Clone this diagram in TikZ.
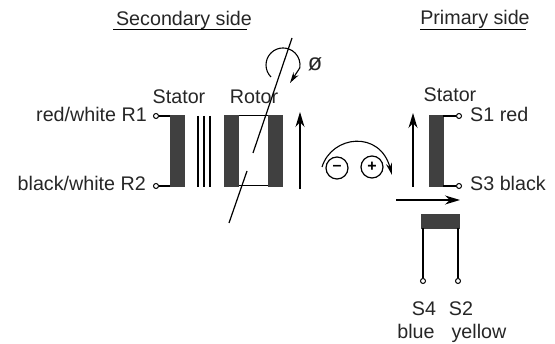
\documentclass[tikz,border=0pt]{standalone}
\usepackage{fontspec}
\setmainfont{Liberation Sans}
\usetikzlibrary{positioning,arrows.meta}
\tikzset{
  lbl/.style={inner sep=0pt,font=\fontsize{19.7}{22}\selectfont,text=black!85},
  winding/.style={draw=black!75,fill=black!75,line width=0.5pt},
  terminal/.style={circle,draw,line width=1pt,fill=white,inner sep=0pt,minimum size=5pt},
  lead/.style={line width=1.2pt},
  flux/.style={line width=1.3pt,-{Stealth[length=15pt,width=9pt]}},
  sign/.style={circle,draw,line width=1.2pt,inner sep=0pt,minimum size=22pt,font=\bfseries\fontsize{16}{16}\selectfont}
}
\begin{document}
\begin{tikzpicture}[x=1pt,y=-1pt]
  \useasboundingbox (0,0) rectangle (555,344);
  % headings
  \node[lbl] (sechead) at (184,20) {Secondary side};
  \node[lbl] (prihead) at (475,19) {Primary side};
  \draw[line width=1pt] (113,30) -- (247,30);
  \draw[line width=1pt] (420,30) -- (526,30);
  % secondary stator
  \node[lbl] (statorA) at (179,97) {Stator};
  \node[lbl] (rotor) at (254,97) {Rotor};
  \node[lbl,anchor=east] (r1) at (147,114) {red/white R1};
  \node[lbl,anchor=east] (r2) at (146,183) {black/white R2};
  \node[winding,minimum width=14pt,minimum height=71pt,inner sep=0pt] (statorAb) at (177,151) {};
  \node[terminal] (r1t) at (156,116) {};
  \node[terminal] (r2t) at (156,186) {};
  \draw[lead] (r1t) -- (r1t -| statorAb.west);
  \draw[lead] (r2t) -- (r2t -| statorAb.west);
  % core
  \foreach \x in {198,204,210}
    \draw[line width=1.1pt] (\x,116) -- (\x,187);
  % rotor
  \draw[line width=1pt] (231,116) rectangle (275,186);
  \node[winding,minimum width=14pt,minimum height=71pt,inner sep=0pt] (rotorL) at (231,151) {};
  \node[winding,minimum width=14pt,minimum height=71pt,inner sep=0pt] (rotorR) at (275,151) {};
  % shaft
  \draw[line width=1.2pt] (292,38) -- (253,153);
  \draw[line width=1.2pt] (247,171) -- (229,223);
  \draw[line width=1.1pt,-{Stealth[length=11pt,width=6pt]}] (271,77) arc[start angle=135,end angle=370,radius=17] -- (290,83);
  \node[lbl,scale=1.2] (phi) at (315,64) {ø};
  % flux arrows
  \coordinate (fa) at (300,189);
  \coordinate (fb) at (300,112);
  \draw[flux] (fa) -- (fb);
  \coordinate (fc) at (413,187);
  \coordinate (fd) at (413,113);
  \draw[flux] (fc) -- (fd);
  \coordinate (fe) at (396,200);
  \coordinate (ff) at (460,200);
  \draw[flux] (fe) -- (ff);
  % sense of rotation
  \node[sign] (minus) at (337,168) {--};
  \node[sign] (plus) at (372,167) {+};
  \draw[line width=1.1pt,-{Stealth[length=12pt,width=6pt]}] (322,167) .. controls (332,135) and (380,130) .. (392,175);
  % primary stator
  \node[lbl] (statorB) at (450,95) {Stator};
  \node[winding,minimum width=14pt,minimum height=71pt,inner sep=0pt] (statorBb) at (436,151) {};
  \node[terminal] (s1t) at (459,116) {};
  \node[terminal] (s3t) at (459,186) {};
  \draw[lead] (s1t) -- (s1t -| statorBb.east);
  \draw[lead] (s3t) -- (s3t -| statorBb.east);
  \node[lbl,anchor=west] (s1) at (470,114) {S1 red};
  \node[lbl,anchor=west] (s3) at (470,183) {S3 black};
  % lower winding
  \node[winding,minimum width=38pt,minimum height=14pt,inner sep=0pt] (lower) at (440,221) {};
  \node[terminal] (s4t) at (423,281) {};
  \node[terminal] (s2t) at (458,281) {};
  \draw[lead] (s4t) -- (s4t |- lower.south);
  \draw[lead] (s2t) -- (s2t |- lower.south);
  \node[lbl,anchor=base] (s4) at (424,316) {S4};
  \node[lbl,anchor=base] (s2) at (461,316) {S2};
  \node[lbl,anchor=base] (blue) at (416,339) {blue};
  \node[lbl,anchor=base] (yellow) at (479,339) {yellow};
\end{tikzpicture}
\end{document}
